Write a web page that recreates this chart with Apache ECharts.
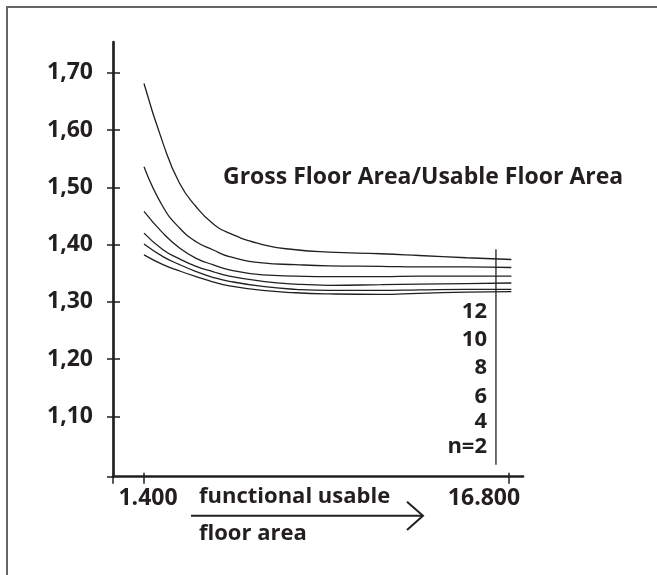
<!DOCTYPE html>
<html>
<head>
<meta charset="utf-8">
<script src="https://cdn.jsdelivr.net/npm/echarts@6/dist/echarts.min.js"></script>
<style>
html,body{margin:0;padding:0;background:#fff;}
#c{width:657px;height:575px;}
</style>
</head>
<body>
<div id="c"></div>
<script>
// ---- data ----
const xValues = [1400, 2200, 2900, 3600, 4300, 5000, 6400, 7800, 9200, 11400, 13000, 15000, 16900];
const n12 = [1.681, 1.577, 1.507, 1.466, 1.437, 1.420, 1.400, 1.391, 1.387, 1.384, 1.381, 1.377, 1.374];
const n10 = [1.536, 1.466, 1.429, 1.405, 1.391, 1.379, 1.368, 1.365, 1.363, 1.362, 1.361, 1.361, 1.360];
const n8  = [1.458, 1.420, 1.394, 1.376, 1.365, 1.356, 1.347, 1.345, 1.344, 1.344, 1.345, 1.345, 1.345];
const n6  = [1.420, 1.391, 1.375, 1.362, 1.353, 1.345, 1.336, 1.331, 1.329, 1.330, 1.331, 1.332, 1.333];
const n4  = [1.401, 1.379, 1.365, 1.353, 1.343, 1.336, 1.327, 1.322, 1.320, 1.320, 1.321, 1.322, 1.322];
const n2  = [1.382, 1.365, 1.354, 1.344, 1.335, 1.328, 1.320, 1.316, 1.314, 1.313, 1.315, 1.317, 1.318];
const seriesNames = ['12', '10', '8', '6', '4', 'n=2'];
const seriesValues = [n12, n10, n8, n6, n4, n2];
const dividerX = [16250, 16250];
const dividerY = [1.392, 1.016];
const yTicks = [1.1, 1.2, 1.3, 1.4, 1.5, 1.6, 1.7];
const xTicks = [1400, 16800];
const xTickLabels = ['1.400', '16.800'];
const titleText = 'Gross Floor Area/Usable Floor Area';
const xAxisText = ['functional usable', 'floor area'];

// ---- chart ----
const INK = '#231f20';
const FONT = '"Open Sans", "DejaVu Sans", sans-serif';
const X_MIN = 92, X_MAX = 17391, Y_MIN = 0.995, Y_MAX = 1.7535;
const chart = echarts.init(document.getElementById('c'), null, {renderer: 'canvas'});

const lineSeries = seriesValues.map((vals, i) => ({
  name: seriesNames[i],
  type: 'line',
  data: xValues.map((x, j) => [x, vals[j]]),
  smooth: 0.5,
  showSymbol: false,
  symbol: 'none',
  lineStyle: {color: INK, width: 1.3},
  z: 3
}));
lineSeries.push({
  name: 'divider',
  type: 'line',
  data: dividerX.map((x, j) => [x, dividerY[j]]),
  showSymbol: false,
  symbol: 'none',
  lineStyle: {color: INK, width: 1.3},
  z: 3
});

const labelYs = [311.7, 340, 367.7, 397, 421.7, 446.7];
const graphics = [
  {type: 'polyline', shape: {points: [[7, 575], [7, 7], [657, 7]]}, style: {stroke: '#666', lineWidth: 2, fill: null}},
  {type: 'text', x: 223, y: 177, style: {text: titleText, font: 'bold 23px ' + FONT, fill: INK, textVerticalAlign: 'middle'}},
  {type: 'text', x: 199, y: 497, style: {text: xAxisText[0], font: 'bold 22px ' + FONT, fill: INK, textVerticalAlign: 'middle'}},
  {type: 'text', x: 199, y: 534, style: {text: xAxisText[1], font: 'bold 22px ' + FONT, fill: INK, textVerticalAlign: 'middle'}},
  {type: 'polyline', shape: {points: [[191, 515.7], [423, 515.7]]}, style: {stroke: INK, lineWidth: 2, fill: null}},
  {type: 'polyline', shape: {points: [[407, 501.7], [423, 515.7], [407, 530]]}, style: {stroke: INK, lineWidth: 2, fill: null}}
];
seriesNames.forEach((n, i) => {
  graphics.push({type: 'text', x: 487, y: labelYs[i], style: {text: n, font: 'bold 22px ' + FONT, fill: INK, textAlign: 'right', textVerticalAlign: 'middle'}});
});

const option = {
  animation: false,
  backgroundColor: '#fff',
  grid: {left: 113, right: 134, top: 42, bottom: 98.3, containLabel: false},
  xAxis: [{
    type: 'value', min: X_MIN, max: X_MAX, position: 'bottom',
    axisLine: {show: true, onZero: false, lineStyle: {color: INK, width: 2.7}},
    axisTick: {show: true, inside: false, length: 7, customValues: [X_MIN].concat(xTicks), lineStyle: {color: INK, width: 1.5}},
    axisLabel: {
      show: true, customValues: xTicks, margin: 10, color: INK, fontFamily: FONT, fontWeight: 'bold', fontSize: 23,
      formatter: v => v === xTicks[0] ? '{a|' + xTickLabels[0] + '}' : '{b|' + xTickLabels[1] + '}',
      rich: {
        a: {fontFamily: FONT, fontWeight: 'bold', fontSize: 23, color: INK, padding: [0, 0, 0, 8]},
        b: {fontFamily: FONT, fontWeight: 'bold', fontSize: 23, color: INK, padding: [0, 50, 0, 0]}
      }
    },
    splitLine: {show: false}
  }, {
    type: 'value', min: X_MIN, max: X_MAX, position: 'bottom',
    axisLine: {show: false, onZero: false},
    axisTick: {show: true, inside: true, length: 4, customValues: xTicks, lineStyle: {color: INK, width: 1.5}},
    axisLabel: {show: false},
    splitLine: {show: false}
  }],
  yAxis: [{
    type: 'value', min: Y_MIN, max: Y_MAX, position: 'left',
    axisLine: {show: true, onZero: false, lineStyle: {color: INK, width: 2.7}},
    axisTick: {show: true, inside: false, length: 6, customValues: [Y_MIN].concat(yTicks), lineStyle: {color: INK, width: 1.5}},
    axisLabel: {
      show: true, customValues: yTicks, margin: 20, color: INK, fontFamily: FONT, fontWeight: 'bold', fontSize: 23,
      formatter: v => v.toFixed(2).replace('.', ',')
    },
    splitLine: {show: false}
  }, {
    type: 'value', min: Y_MIN, max: Y_MAX, position: 'left',
    axisLine: {show: false, onZero: false},
    axisTick: {show: true, inside: true, length: 7, customValues: yTicks, lineStyle: {color: INK, width: 1.5}},
    axisLabel: {show: false},
    splitLine: {show: false}
  }],
  series: lineSeries,
  graphic: graphics
};
chart.setOption(option);
</script>
</body>
</html>
